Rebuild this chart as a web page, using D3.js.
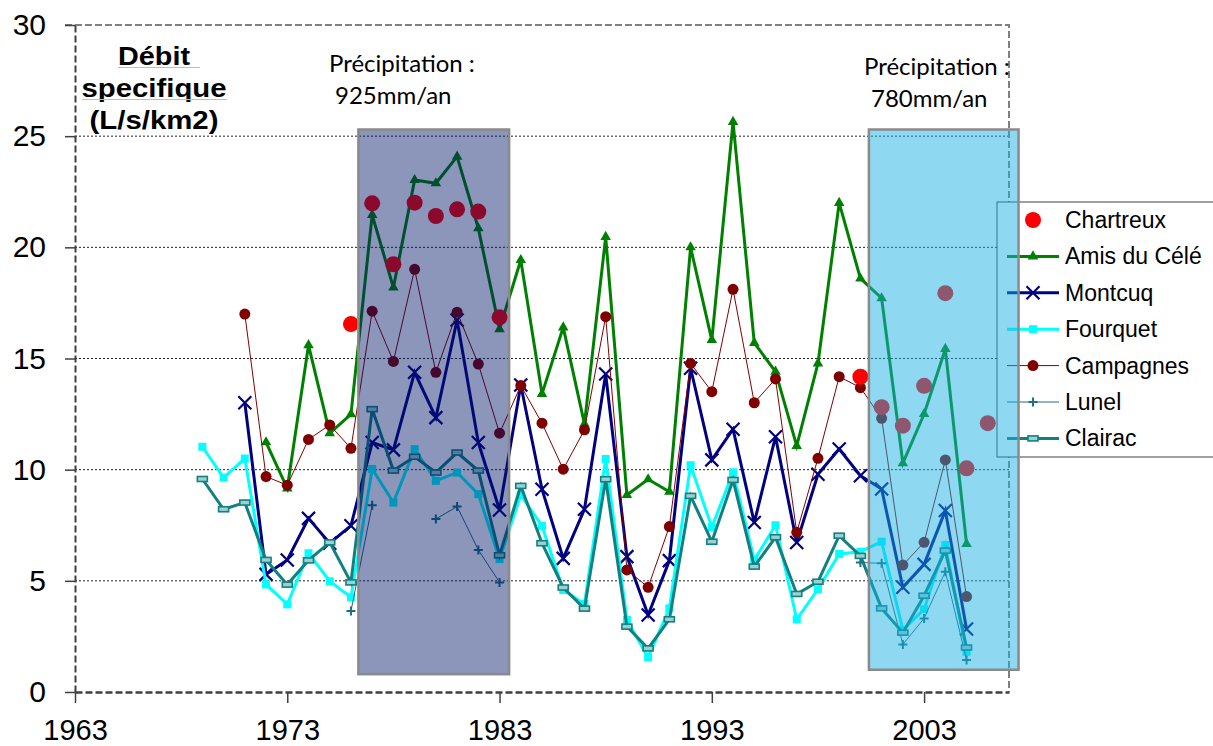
<!DOCTYPE html>
<html lang="fr">
<head>
    <meta charset="UTF-8">
    <title>Débit specifique</title>
    <style>
        body { margin: 0; background: #fff; }
        svg { display: block; }
    </style>
</head>
<body>
    <div class="canvas"></div>

    <script src="https://cdnjs.cloudflare.com/ajax/libs/d3/7.8.5/d3.min.js"></script>

    <script>
        // données (L/s/km2)
        const years = [1969, 1970, 1971, 1972, 1973, 1974, 1975, 1976, 1977, 1978,
                       1979, 1980, 1981, 1982, 1983, 1984, 1985, 1986, 1987, 1988,
                       1989, 1990, 1991, 1992, 1993, 1994, 1995, 1996, 1997, 1998,
                       1999, 2000, 2001, 2002, 2003, 2004, 2005, 2006];

        const chartreux = [null, null, null, null, null, null, null, 16.55, 21.98, 19.24,
                           22.01, 21.41, 21.71, 21.61, 16.85, null, null, null, null, null,
                           null, null, null, null, null, null, null, null, null, null,
                           null, 14.18, 12.81, 11.98, 13.77, 17.94, 10.06, 12.09];

        const amisDuCele = [null, null, null, 11.23, 9.16, 15.6, 11.64, 12.49, 21.46, 18.19,
                            23.03, 22.88, 24.08, 20.86, 16.32, 19.43, 13.41, 16.4, 12.06, 20.47,
                            8.86, 9.57, 9.01, 20.0, 15.83, 25.64, 15.7, 14.41, 11.07, 14.78,
                            22.0, 18.6, 17.71, 10.29, 12.5, 15.43, 6.66, null];

        const montcuq = [null, null, 13.01, 5.29, 5.94, 7.81, 6.69, 7.48, 11.22, 10.89,
                         14.38, 12.34, 16.73, 11.22, 8.19, 13.81, 9.12, 6.01, 8.22, 14.3,
                         6.09, 3.46, 5.91, 14.56, 10.44, 11.82, 7.62, 11.48, 6.72, 9.79,
                         10.93, 9.73, 9.13, 4.71, 5.74, 8.16, 2.83, null];

        const fourquet = [11.03, 9.64, 10.5, 4.84, 3.94, 6.24, 4.98, 4.26, 10.03, 8.52,
                          10.92, 9.5, 9.87, 8.9, 5.98, 8.86, 7.47, 4.59, 3.96, 10.48,
                          3.24, 1.56, 3.76, 10.2, 7.41, 9.88, 5.94, 7.5, 3.27, 4.62,
                          6.21, 6.31, 6.76, 2.79, 3.72, 6.61, 1.81, null];

        const campagnes = [null, null, 17.0, 9.69, 9.3, 11.36, 12.01, 10.96, 17.13, 14.87,
                           19.01, 14.38, 17.08, 14.75, 11.64, 13.78, 12.09, 10.02, 11.79, 16.88,
                           5.49, 4.71, 7.44, 14.78, 13.51, 18.11, 13.01, 14.08, 7.18, 10.51,
                           14.18, 13.69, 12.31, 5.71, 6.73, 10.44, 4.29, null];

        const lunel = [null, null, null, null, null, null, null, 3.64, 8.4, null,
                       null, 7.78, 8.34, 6.39, 4.93, null, null, null, null, null,
                       null, null, null, null, null, null, null, null, null, null,
                       null, 5.82, 5.79, 2.14, 3.31, 5.41, 1.44, null];

        const clairac = [9.58, 8.22, 8.52, 5.94, 4.83, 5.92, 6.73, 4.93, 12.72, 9.96,
                         10.58, 9.87, 10.77, 9.96, 6.15, 9.27, 6.69, 4.7, 3.75, 9.57,
                         2.94, 1.96, 3.27, 8.82, 6.76, 9.54, 5.64, 6.96, 4.41, 4.96,
                         7.03, 6.12, 3.76, 2.67, 4.33, 6.36, 2.0, null];

        const yTicks = [0, 5, 10, 15, 20, 25, 30];
        const xTicks = [1963, 1973, 1983, 1993, 2003];

        // périodes de précipitation (années, L/s/km2)
        const periods = [
            { from: 1976.35, to: 1983.45, top: 25.3, bottom: 0.8, label: "925mm/an" },
            { from: 2000.4, to: 2007.45, top: 25.3, bottom: 1.0, label: "780mm/an" }
        ];

        // ordre de la légende
        const legendOrder = ["Chartreux", "Amis du Célé", "Montcuq", "Fourquet", "Campagnes", "Lunel", "Clairac"];

        const series = [
            { name: "Chartreux", values: chartreux, color: "#ff0000", width: 0, marker: "bigdot" },
            { name: "Amis du Célé", values: amisDuCele, color: "#008000", width: 3, marker: "triangle" },
            { name: "Montcuq", values: montcuq, color: "#000080", width: 3, marker: "x" },
            { name: "Fourquet", values: fourquet, color: "#00ffff", width: 3, marker: "square" },
            { name: "Campagnes", values: campagnes, color: "#800000", width: 1, marker: "dot" },
            { name: "Lunel", values: lunel, color: "#1d7080", width: 1, marker: "plus" },
            { name: "Clairac", values: clairac, color: "#118080", width: 3, marker: "dash" }
        ];
        const drawOrder = ["Amis du Célé", "Montcuq", "Fourquet", "Campagnes", "Lunel", "Clairac", "Chartreux"];

        const width = 1213, height = 746;
        const font = "'Liberation Sans', Arial, sans-serif";

        const svg = d3.select(".canvas").append("svg")
            .attr("width", width)
            .attr("height", height);

        const x = d3.scaleLinear().domain([1963, 2007]).range([75, 1009]);
        const y = d3.scaleLinear().domain([0, 30]).range([692, 25]);

        // grille pointillée
        svg.append("g")
            .selectAll("line")
            .data(yTicks.filter(d => d > 0 && d < 30))
            .join("line")
                .attr("x1", x(1963))
                .attr("x2", x(2007))
                .attr("y1", d => y(d))
                .attr("y2", d => y(d))
                .attr("stroke", "#222")
                .attr("stroke-width", 1)
                .attr("stroke-dasharray", "2,2");

        // cadre haut et droite
        svg.append("path")
            .attr("d", `M${x(1963) - 10},${y(30)}H${x(2007)}V${y(0)}`)
            .attr("fill", "none")
            .attr("stroke", "#808080")
            .attr("stroke-width", 2)
            .attr("stroke-dasharray", "7,3");

        // axes
        const yAxis = svg.append("g")
            .attr("transform", `translate(${x(1963)},0)`)
            .call(d3.axisLeft(y).tickValues(yTicks).tickSize(10).tickSizeOuter(0).tickPadding(19));
        yAxis.select(".domain")
            .attr("stroke", "#404040")
            .attr("stroke-width", 2)
            .attr("stroke-dasharray", "7,3");
        yAxis.selectAll(".tick line").attr("stroke", "#404040").attr("stroke-width", 1.5);
        yAxis.selectAll("text")
            .attr("font-family", font)
            .attr("font-size", 30)
            .attr("fill", "#000");

        const xAxis = svg.append("g")
            .attr("transform", `translate(0,${y(0)})`)
            .call(d3.axisBottom(x).tickValues(xTicks).tickFormat(d3.format("d"))
                .tickSize(11).tickSizeOuter(0).tickPadding(16));
        xAxis.select(".domain")
            .attr("stroke", "#404040")
            .attr("stroke-width", 2.5)
            .attr("stroke-dasharray", "7,3");
        xAxis.selectAll(".tick line").attr("stroke", "#404040").attr("stroke-width", 1.5);
        xAxis.selectAll("text")
            .attr("font-family", font)
            .attr("font-size", 29)
            .attr("fill", "#000");

        // séries
        const line = d3.line()
            .defined(d => d.v != null)
            .x(d => x(d.year))
            .y(d => y(d.v));

        function drawMarker(g, type, color) {
            if (type === "bigdot") {
                g.append("circle").attr("r", 8).attr("fill", color);
            } else if (type === "dot") {
                g.append("circle").attr("r", 5.5).attr("fill", color);
            } else if (type === "triangle") {
                g.append("path").attr("d", d3.symbol(d3.symbolTriangle, 48)()).attr("fill", color);
            } else if (type === "square") {
                g.append("rect").attr("x", -4).attr("y", -4).attr("width", 8).attr("height", 8).attr("fill", color);
            } else if (type === "x") {
                g.append("path").attr("d", "M-6.5,-6.5L6.5,6.5M-6.5,6.5L6.5,-6.5")
                    .attr("stroke", color).attr("stroke-width", 2.2);
            } else if (type === "plus") {
                g.append("path").attr("d", "M-4.5,0H4.5M0,-4.5V4.5")
                    .attr("stroke", color).attr("stroke-width", 2);
            } else if (type === "dash") {
                g.append("rect").attr("x", -5).attr("y", -2.5).attr("width", 10).attr("height", 5)
                    .attr("fill", "#9fd0d0").attr("stroke", color).attr("stroke-width", 1.6);
            }
        }

        const plot = svg.append("g");
        drawOrder.forEach(name => {
            const s = series.find(d => d.name === name);
            const pts = years.map((year, i) => ({ year, v: s.values[i] }));
            const g = plot.append("g");
            if (s.width > 0) {
                g.append("path")
                    .datum(pts)
                    .attr("d", line)
                    .attr("fill", "none")
                    .attr("stroke", s.color)
                    .attr("stroke-width", s.width)
                    .attr("stroke-linejoin", "miter");
            }
            g.selectAll("g.m")
                .data(pts.filter(d => d.v != null))
                .join("g")
                    .attr("class", "m")
                    .attr("transform", d => `translate(${x(d.year)},${y(d.v)})`)
                    .each(function () { drawMarker(d3.select(this), s.marker, s.color); });
        });

        // titre de l'axe
        const title = svg.append("g")
            .attr("font-family", font)
            .attr("font-weight", "bold")
            .attr("font-size", 26)
            .attr("text-anchor", "middle");
        [["Débit", 65, 72], ["specifique", 97, 145], ["(L/s/km2)", 129, 129]].forEach(([t, by, len]) => {
            title.append("text")
                .attr("x", 154)
                .attr("y", by)
                .attr("textLength", len)
                .attr("lengthAdjust", "spacingAndGlyphs")
                .text(t);
        });
        // soulignement du correcteur
        svg.append("path")
            .attr("d", "M118,67.5H200M82,99.5H227")
            .attr("stroke", "#f2a8a8")
            .attr("stroke-width", 1);

        // textes de précipitation
        const precip = svg.append("g")
            .attr("font-family", "Lato, 'Open Sans', sans-serif")
            .attr("font-size", 24)
            .attr("fill", "#000");
        [[329, 72, "Précipitation :"], [335, 104, periods[0].label],
         [864, 75, "Précipitation :"], [871, 107, periods[1].label]].forEach(([px, py, t]) => {
            precip.append("text").attr("x", px).attr("y", py).text(t);
        });

        // légende
        const legend = svg.append("g").attr("transform", "translate(997,202)");
        legend.append("rect")
            .attr("x", 0).attr("y", 0)
            .attr("width", 240).attr("height", 255)
            .attr("fill", "#fff")
            .attr("stroke", "#404040")
            .attr("stroke-width", 1);
        legendOrder.forEach((name, i) => {
            const s = series.find(d => d.name === name);
            const cy = 18 + i * 36.4;
            const item = legend.append("g").attr("transform", `translate(0,${cy})`);
            if (s.width > 0) {
                item.append("line")
                    .attr("x1", 10).attr("x2", 62)
                    .attr("stroke", s.color)
                    .attr("stroke-width", s.width);
            }
            const m = item.append("g").attr("transform", "translate(36,0)");
            drawMarker(m, s.marker, s.color);
            item.append("text")
                .attr("x", 68)
                .attr("y", 8)
                .attr("font-family", font)
                .attr("font-size", 23)
                .text(s.name);
        });

        // rectangles semi-transparents des périodes
        const fills = ["rgba(0,20,103,0.45)", "rgba(25,175,226,0.49)"];
        svg.append("g")
            .selectAll("rect")
            .data(periods)
            .join("rect")
                .attr("x", d => x(d.from))
                .attr("y", d => y(d.top))
                .attr("width", d => x(d.to) - x(d.from))
                .attr("height", d => y(d.bottom) - y(d.top))
                .attr("fill", (d, i) => fills[i])
                .attr("stroke", "#8a8a8a")
                .attr("stroke-width", 2.5);
    </script>
</body>
</html>
